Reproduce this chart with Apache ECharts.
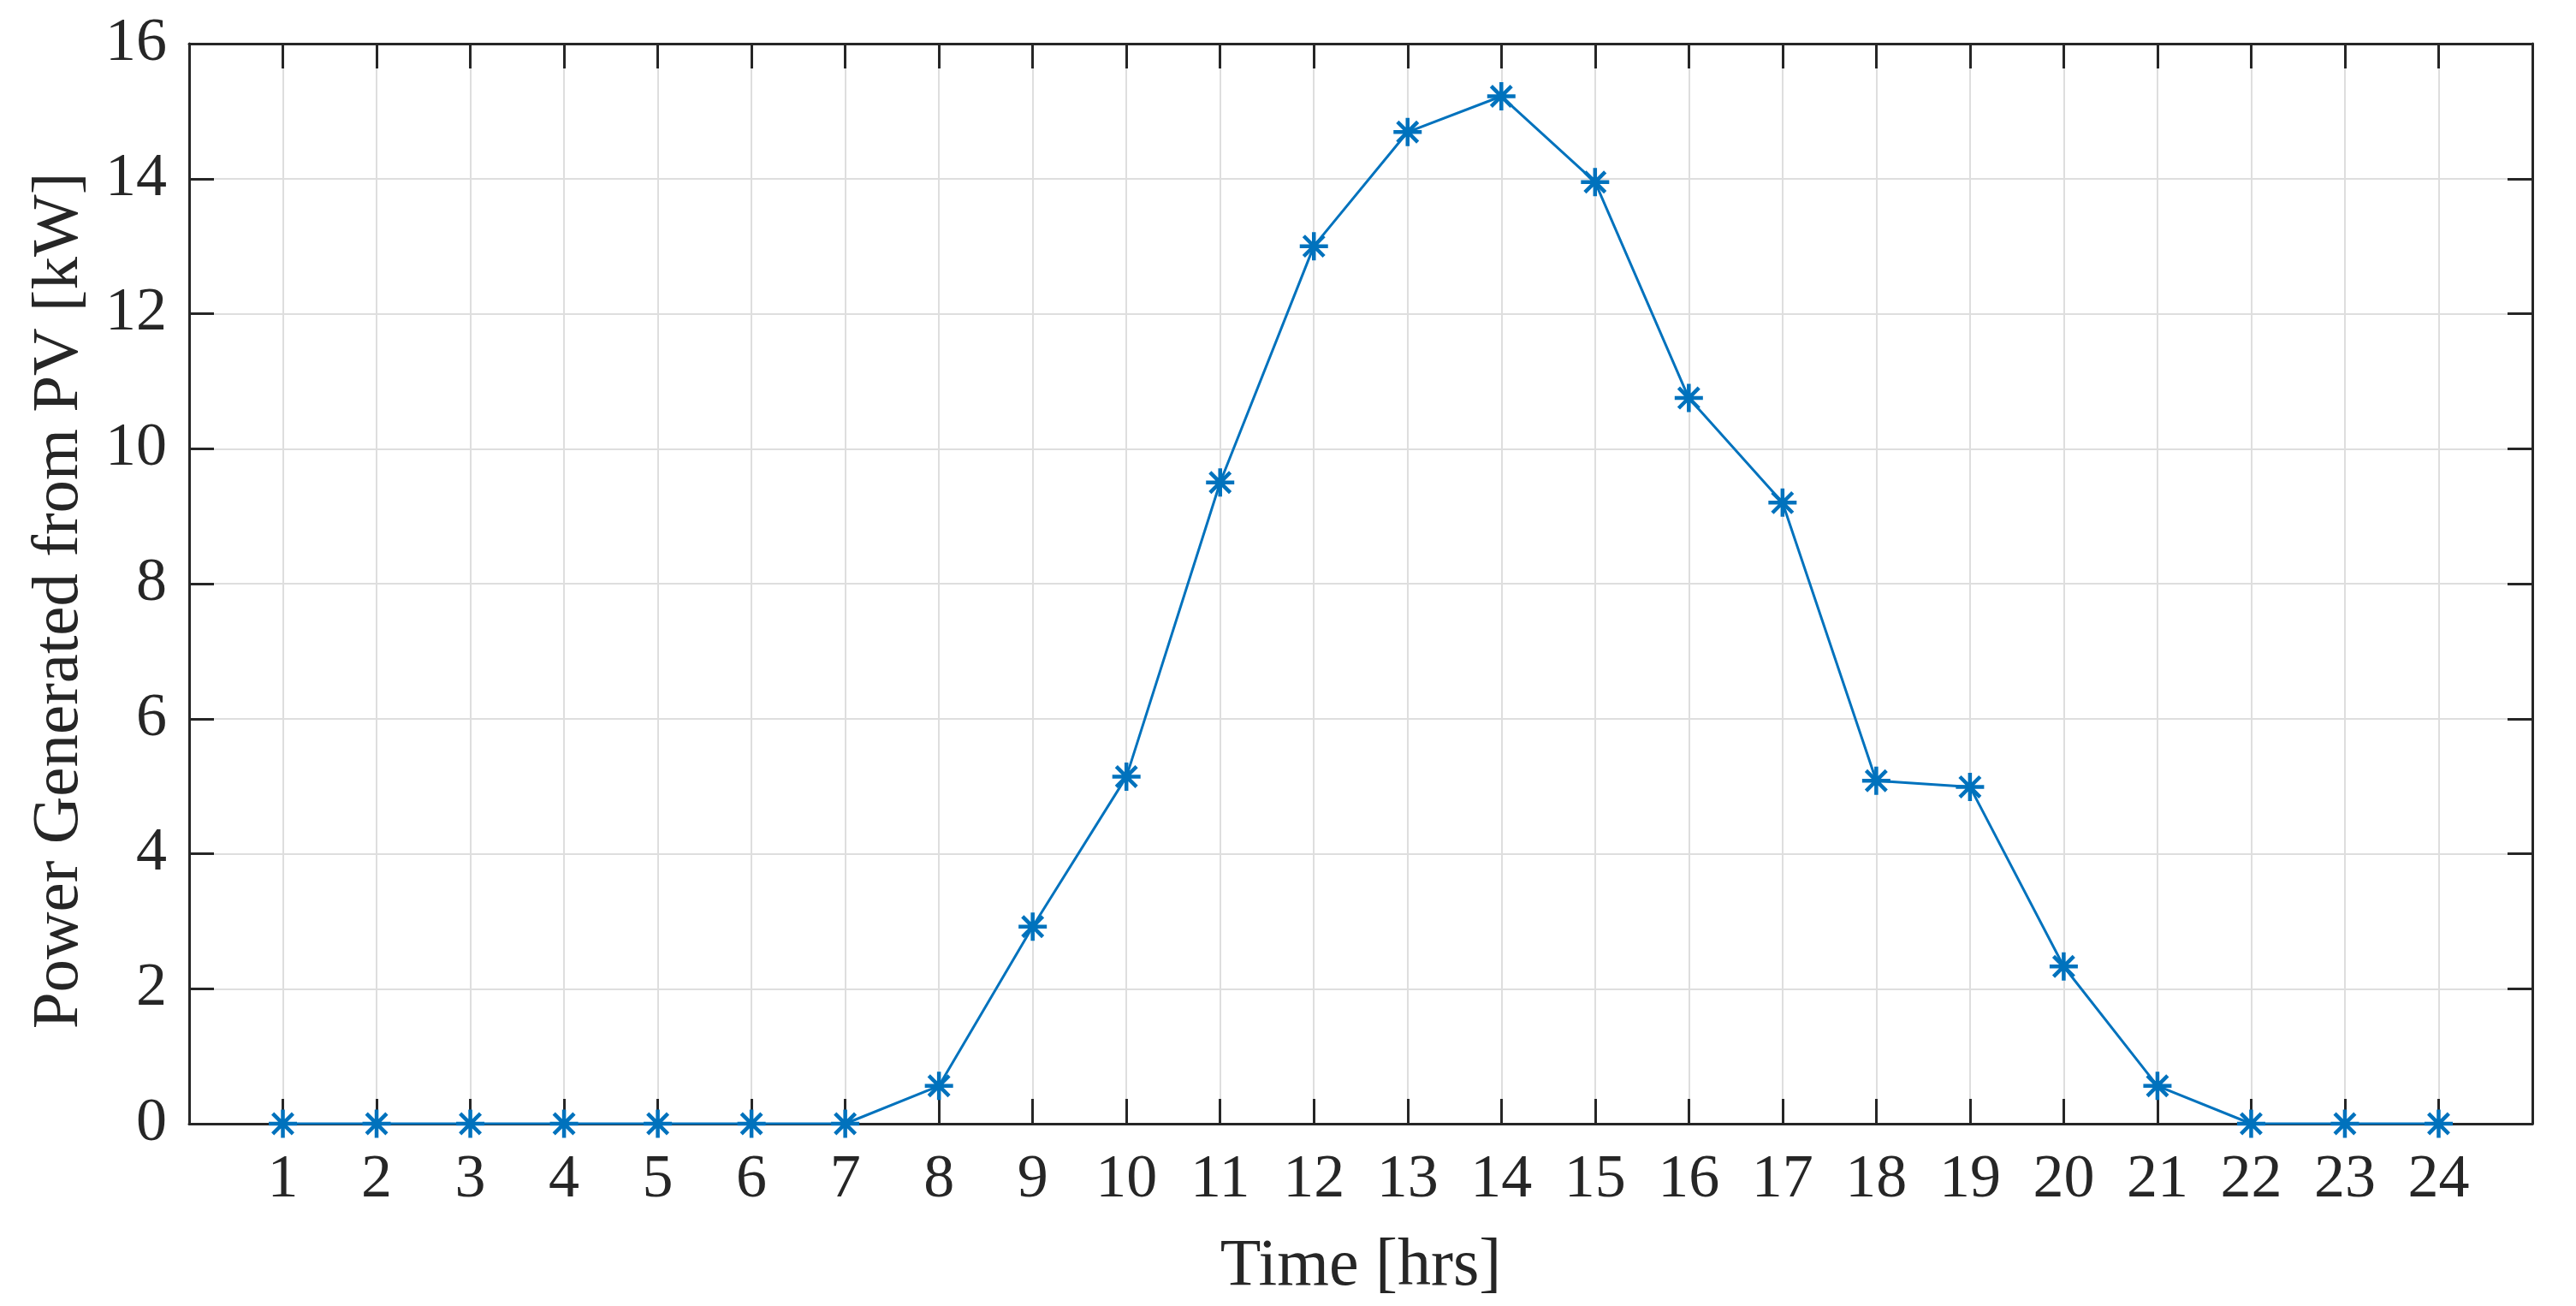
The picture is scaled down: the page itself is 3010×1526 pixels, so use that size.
<!DOCTYPE html>
<html>
<head>
<meta charset="utf-8">
<title>PV power</title>
<script src="https://cdn.jsdelivr.net/npm/echarts@6/dist/echarts.min.js"></script>
<style>
  html, body { margin: 0; padding: 0; background: #fff; }
  #main { width: 3010px; height: 1526px; }
</style>
</head>
<body>
<div id="main"></div>
<script>
  // hours of the day and PV power
  var hours = [1, 2, 3, 4, 5, 6, 7, 8, 9, 10, 11, 12, 13, 14, 15, 16, 17, 18, 19, 20, 21, 22, 23, 24];
  var pvPower = [0, 0, 0, 0, 0, 0, 0, 0.56, 2.92, 5.14, 9.5, 13.0, 14.69, 15.22, 13.95, 10.75, 9.2, 5.08, 4.99, 2.33, 0.56, 0, 0, 0];
  var yTicks = [0, 2, 4, 6, 8, 10, 12, 14, 16];

  var points = [];
  for (var i = 0; i < hours.length; i++) {
    points.push([hours[i], pvPower[i]]);
  }

  var fontName = 'Liberation Serif';
  var ink = '#262626';
  var blue = '#0072BD';
  // matlab style asterisk
  var star = 'path://M0,-1L0,1M-1,0L1,0M-0.72,-0.72L0.72,0.72M-0.72,0.72L0.72,-0.72';

  var boxLine = { show: true, onZero: false, lineStyle: { color: ink, width: 3 } };
  var inTick = { show: true, inside: true, length: 29, lineStyle: { color: ink, width: 3 } };
  var gridLine = { show: true, lineStyle: { color: '#dedede', width: 2 } };

  var myChart = echarts.init(document.getElementById('main'));
  var option = {
    animation: false,
    grid: { left: 221, right: 51, top: 51, bottom: 213 },
    xAxis: [
      {
        type: 'value', min: 0, max: 25, interval: 1, position: 'bottom',
        name: 'Time [hrs]', nameLocation: 'middle', nameGap: 129,
        nameTextStyle: { fontFamily: fontName, fontSize: 78, color: ink },
        axisLine: boxLine, axisTick: inTick, splitLine: gridLine,
        axisLabel: {
          fontFamily: fontName, fontSize: 72, color: ink, margin: 30,
          formatter: function (v) { return (v >= hours[0] && v <= hours[hours.length - 1]) ? String(v) : ''; }
        }
      },
      {
        type: 'value', min: 0, max: 25, interval: 1, position: 'top',
        axisLine: boxLine, axisTick: inTick, splitLine: { show: false }, axisLabel: { show: false }
      }
    ],
    yAxis: [
      {
        type: 'value', min: yTicks[0], max: yTicks[yTicks.length - 1], interval: 2, position: 'left',
        name: 'Power Generated from PV [kW]', nameLocation: 'middle', nameGap: 113,
        // a little right padding moves the rotated title down, as in the figure
        nameTextStyle: { fontFamily: fontName, fontSize: 77, color: ink, padding: [0, 40, 0, 0] },
        axisLine: boxLine, axisTick: inTick, splitLine: gridLine,
        axisLabel: { fontFamily: fontName, fontSize: 72, color: ink, margin: 26 }
      },
      {
        type: 'value', min: yTicks[0], max: yTicks[yTicks.length - 1], interval: 2, position: 'right',
        axisLine: boxLine, axisTick: inTick, splitLine: { show: false }, axisLabel: { show: false }
      }
    ],
    series: [
      {
        name: 'PV',
        type: 'line',
        data: points,
        symbol: star,
        symbolSize: 33,
        showAllSymbol: true,
        lineStyle: { color: blue, width: 3 },
        itemStyle: { color: 'none', borderColor: blue, borderWidth: 4.5 },
        emphasis: { disabled: true },
        z: 5
      }
    ]
  };
  myChart.setOption(option);
  window.addEventListener('resize', function () { myChart.resize(); });
</script>
</body>
</html>
